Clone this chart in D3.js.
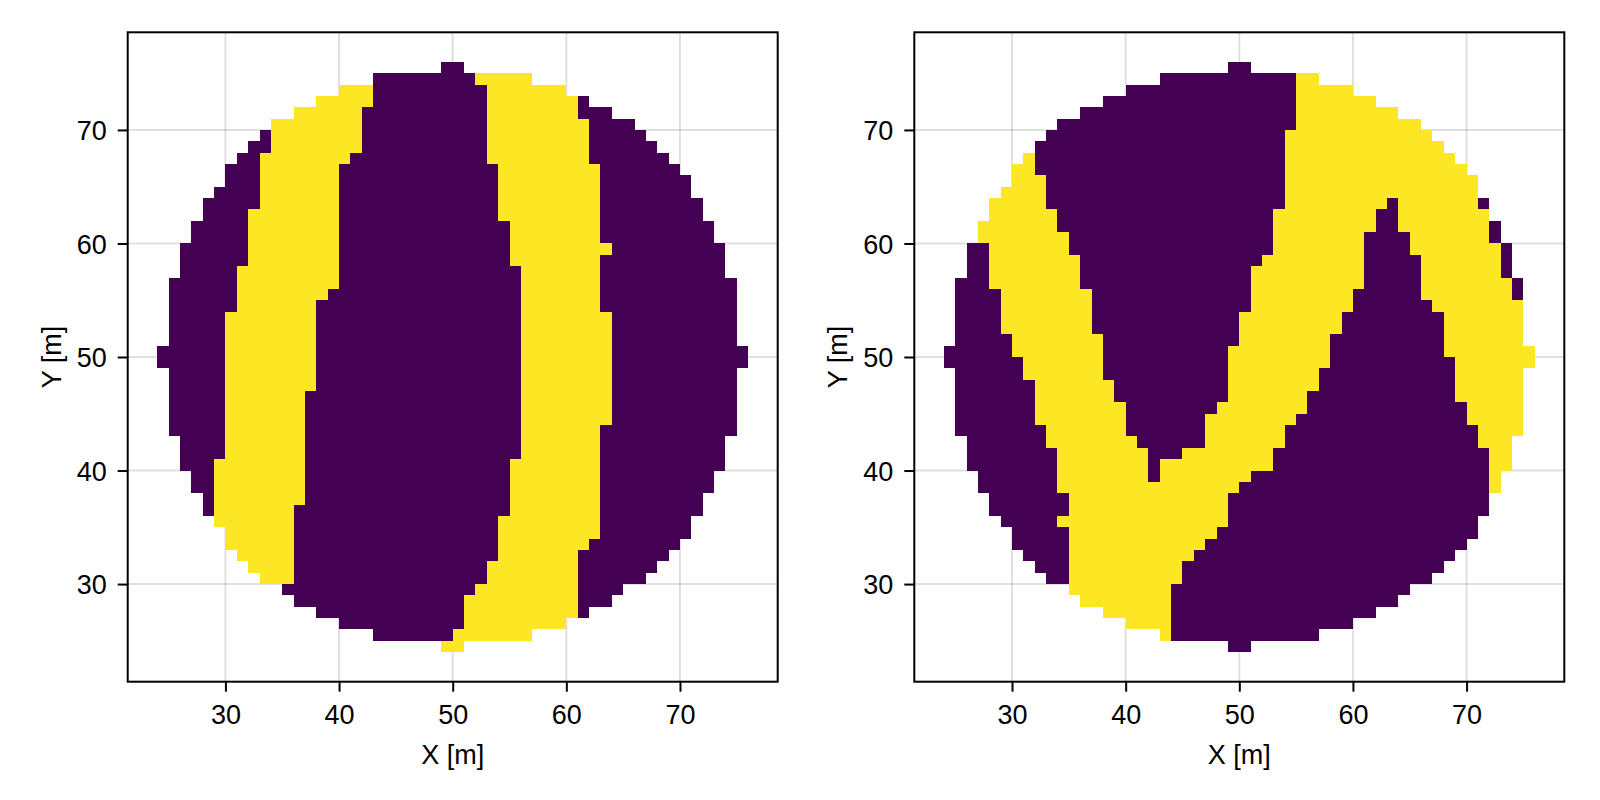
<!DOCTYPE html>
<html>
<head>
<meta charset="utf-8">
<script src="https://cdn.jsdelivr.net/npm/d3@7"></script>
<style>
  body { margin: 0; background: #fff; }
  text { font-family: "Liberation Sans", Arial, Helvetica, sans-serif; fill: #000; }
</style>
</head>
<body>
<div id="chart"></div>
<script>
// row bottoms (y of the cell's lower edge), top to bottom
const rowY = [75, 74, 73, 72, 71, 70, 69, 68, 67, 66, 65, 64, 63, 62, 61, 60, 59, 58,
  57, 56, 55, 54, 53, 52, 51, 50, 49, 48, 47, 46, 45, 44, 43, 42, 41, 40, 39, 38,
  37, 36, 35, 34, 33, 32, 31, 30, 29, 28, 27, 26, 25, 24];

// each row: [value of first run, x edges...]; runs alternate 0 / 1
const leftRuns = [
  [0, 49, 51],
  [0, 43, 52, 57],
  [1, 40, 43, 53, 60],
  [1, 38, 43, 53, 61, 62],
  [1, 36, 42, 53, 61, 64],
  [1, 34, 42, 53, 62, 66],
  [0, 33, 34, 42, 53, 62, 67],
  [0, 32, 34, 42, 53, 62, 68],
  [0, 31, 33, 41, 53, 62, 69],
  [0, 30, 33, 40, 54, 63, 70],
  [0, 30, 33, 40, 54, 63, 71],
  [0, 29, 33, 40, 54, 63, 71],
  [0, 28, 33, 40, 54, 63, 72],
  [0, 28, 32, 40, 54, 63, 72],
  [0, 27, 32, 40, 55, 63, 73],
  [0, 27, 32, 40, 55, 63, 73],
  [0, 26, 32, 40, 55, 64, 74],
  [0, 26, 32, 40, 55, 63, 74],
  [0, 26, 31, 40, 56, 63, 74],
  [0, 25, 31, 40, 56, 63, 75],
  [0, 25, 31, 39, 56, 63, 75],
  [0, 25, 31, 38, 56, 63, 75],
  [0, 25, 30, 38, 56, 64, 75],
  [0, 25, 30, 38, 56, 64, 75],
  [0, 25, 30, 38, 56, 64, 75],
  [0, 24, 30, 38, 56, 64, 76],
  [0, 24, 30, 38, 56, 64, 76],
  [0, 25, 30, 38, 56, 64, 75],
  [0, 25, 30, 38, 56, 64, 75],
  [0, 25, 30, 37, 56, 64, 75],
  [0, 25, 30, 37, 56, 64, 75],
  [0, 25, 30, 37, 56, 64, 75],
  [0, 25, 30, 37, 56, 63, 75],
  [0, 26, 30, 37, 56, 63, 74],
  [0, 26, 30, 37, 56, 63, 74],
  [0, 26, 29, 37, 55, 63, 74],
  [0, 27, 29, 37, 55, 63, 73],
  [0, 27, 29, 37, 55, 63, 73],
  [0, 28, 29, 37, 55, 63, 72],
  [0, 28, 29, 36, 55, 63, 72],
  [1, 29, 36, 54, 63, 71],
  [1, 30, 36, 54, 63, 71],
  [1, 30, 36, 54, 62, 70],
  [1, 31, 36, 54, 61, 69],
  [1, 32, 36, 53, 61, 68],
  [1, 33, 36, 53, 61, 67],
  [0, 35, 52, 61, 65],
  [0, 36, 51, 61, 64],
  [0, 38, 51, 61, 62],
  [0, 40, 51, 60],
  [0, 43, 50, 57],
  [1, 49, 51],
];

const rightRuns = [
  [0, 49, 51],
  [0, 43, 55, 57],
  [0, 40, 55, 60],
  [0, 38, 55, 62],
  [0, 36, 55, 64],
  [0, 34, 55, 66],
  [0, 33, 54, 67],
  [0, 32, 54, 68],
  [1, 31, 32, 54, 69],
  [1, 30, 32, 54, 70],
  [1, 30, 33, 54, 71],
  [1, 29, 33, 54, 71],
  [1, 28, 33, 54, 63, 64, 71, 72],
  [1, 28, 34, 53, 62, 64, 72],
  [1, 27, 34, 53, 62, 64, 72, 73],
  [1, 27, 35, 53, 61, 65, 72, 73],
  [0, 26, 28, 35, 53, 61, 65, 73, 74],
  [0, 26, 28, 36, 52, 61, 66, 73, 74],
  [0, 26, 28, 36, 51, 61, 66, 73, 74],
  [0, 25, 28, 36, 51, 61, 66, 74, 75],
  [0, 25, 29, 37, 51, 60, 66, 74, 75],
  [0, 25, 29, 37, 51, 60, 67, 75],
  [0, 25, 29, 37, 50, 59, 68, 75],
  [0, 25, 29, 37, 50, 59, 68, 75],
  [0, 25, 30, 38, 50, 58, 68, 75],
  [0, 24, 30, 38, 49, 58, 68, 76],
  [0, 24, 31, 38, 49, 58, 69, 76],
  [0, 25, 31, 38, 49, 57, 69, 75],
  [0, 25, 32, 39, 49, 57, 69, 75],
  [0, 25, 32, 39, 49, 56, 69, 75],
  [0, 25, 32, 40, 48, 56, 70, 75],
  [0, 25, 32, 40, 47, 55, 70, 75],
  [0, 25, 33, 40, 47, 54, 71, 75],
  [0, 26, 33, 41, 47, 54, 71, 74],
  [0, 26, 34, 42, 45, 53, 72, 74],
  [0, 26, 34, 42, 43, 53, 72, 74],
  [0, 27, 34, 42, 43, 51, 72, 73],
  [0, 27, 34, 50, 72, 73],
  [0, 28, 35, 49, 72],
  [0, 28, 35, 49, 72],
  [0, 29, 34, 49, 71],
  [0, 30, 35, 48, 71],
  [0, 30, 35, 47, 70],
  [0, 31, 35, 46, 69],
  [0, 32, 35, 45, 68],
  [0, 33, 35, 45, 67],
  [1, 35, 44, 65],
  [1, 36, 44, 64],
  [1, 38, 44, 62],
  [1, 40, 44, 60],
  [1, 43, 44, 57],
  [0, 49, 51],
];

const xTicks = [30, 40, 50, 60, 70];
const yTicks = [30, 40, 50, 60, 70];
const xLabel = "X [m]";
const yLabel = "Y [m]";

// layout
const W = 1600, H = 800;
const panelW = 650, panelH = 649.4;
const panelTop = 32.3;
const panelLefts = [127.7, 914.3];
const fontSize = 27;

const svg = d3.select("#chart").append("svg")
  .attr("width", W)
  .attr("height", H)
  .style("display", "block");

const x = d3.scaleLinear().domain([21.4, 78.6]).range([0, panelW]);
const y = d3.scaleLinear().domain([21.4, 78.6]).range([panelH, 0]);
const color = d3.scaleSequential(d3.interpolateViridis).domain([0, 1]);

// turn a row of run edges into rect records
function toCells(runs) {
  const cells = [];
  runs.forEach((r, i) => {
    for (let j = 1; j < r.length - 1; j++) {
      cells.push({ y: rowY[i], x0: r[j], x1: r[j + 1], v: (r[0] + j - 1) % 2 });
    }
  });
  return cells;
}

[leftRuns, rightRuns].forEach((runs, p) => {
  const g = svg.append("g")
    .attr("transform", `translate(${panelLefts[p]},${panelTop})`);

  // grid lines (under the heatmap)
  g.append("g")
    .selectAll("line.gx")
    .data(xTicks)
    .join("line")
    .attr("x1", (d) => x(d)).attr("x2", (d) => x(d))
    .attr("y1", 0).attr("y2", panelH)
    .attr("stroke", "rgba(0,0,0,0.12)")
    .attr("stroke-width", 2);
  g.append("g")
    .selectAll("line.gy")
    .data(yTicks)
    .join("line")
    .attr("x1", 0).attr("x2", panelW)
    .attr("y1", (d) => y(d)).attr("y2", (d) => y(d))
    .attr("stroke", "rgba(0,0,0,0.12)")
    .attr("stroke-width", 2);

  // heatmap cells
  g.append("g")
    .attr("shape-rendering", "crispEdges")
    .selectAll("rect")
    .data(toCells(runs))
    .join("rect")
    .attr("x", (d) => x(d.x0))
    .attr("width", (d) => x(d.x1) - x(d.x0))
    .attr("y", (d) => y(d.y + 1))
    .attr("height", (d) => y(d.y) - y(d.y + 1))
    .attr("fill", (d) => color(d.v));

  // axes
  const ax = g.append("g")
    .attr("transform", `translate(0,${panelH})`)
    .call(d3.axisBottom(x).tickValues(xTicks).tickSize(10).tickPadding(13));
  const ay = g.append("g")
    .call(d3.axisLeft(y).tickValues(yTicks).tickSize(10).tickPadding(11));

  [ax, ay].forEach((a) => {
    a.select(".domain").remove();
    a.selectAll(".tick line").attr("stroke", "#000").attr("stroke-width", 2);
    a.selectAll(".tick text")
      .attr("fill", "#000")
      .style("font-size", fontSize + "px")
      .style("font-family", '"Liberation Sans", Arial, sans-serif');
  });
  ay.selectAll(".tick text").attr("dy", "0.36em");

  // frame
  g.append("rect")
    .attr("x", 0).attr("y", 0)
    .attr("width", panelW).attr("height", panelH)
    .attr("fill", "none")
    .attr("stroke", "#000")
    .attr("stroke-width", 2);

  // axis labels
  g.append("text")
    .attr("x", panelW / 2)
    .attr("y", 764 - panelTop)
    .attr("text-anchor", "middle")
    .style("font-size", fontSize + "px")
    .text(xLabel);

  g.append("text")
    .attr("transform", `translate(${60.5 - 127.7},${panelH / 2}) rotate(-90)`)
    .attr("text-anchor", "middle")
    .style("font-size", fontSize + "px")
    .text(yLabel);
});
</script>
</body>
</html>
